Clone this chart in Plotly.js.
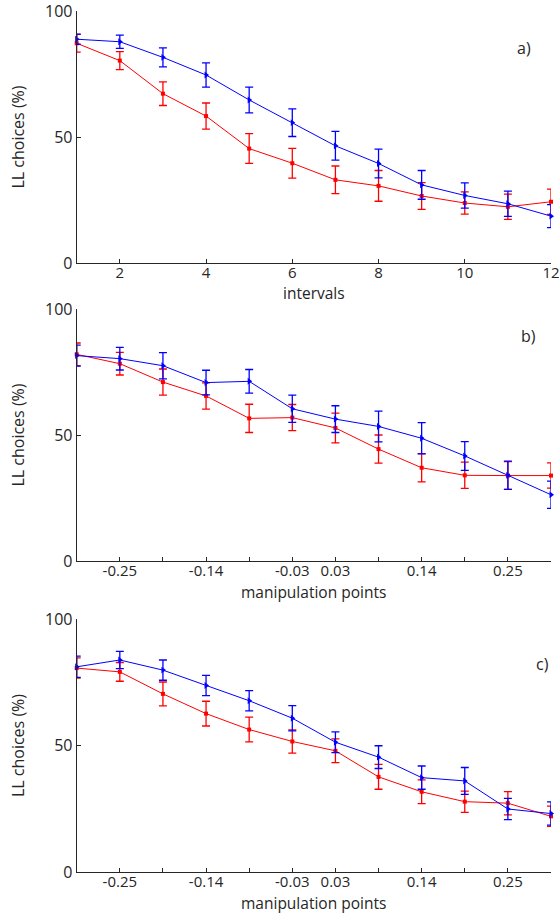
<!DOCTYPE html>
<html>
<head>
<meta charset="utf-8">
<script src="https://cdn.plot.ly/plotly-3.0.1.min.js"></script>
<style>html,body{margin:0;padding:0;background:#fff;}#plot{width:559px;height:913px;}</style>
</head>
<body>
<div id="plot"></div>
<script>
// x positions (index of interval / manipulation point)
const xIdx = [1,2,3,4,5,6,7,8,9,10,11,12];

// Panel a) intervals
const aTickVals = [2,4,6,8,10,12];
const aTickText = ["2","4","6","8","10","12"];
const aBlue    = [88.8,87.8,81.6,74.6,64.7,55.7,46.5,39.5,31.0,26.8,23.5,18.6];
const aBlueErr = [2.0,2.6,3.8,4.8,5.1,5.5,5.7,5.7,5.7,5.0,5.0,4.6];
const aRed     = [87.2,80.3,67.2,58.3,45.4,39.6,33.0,30.6,26.6,23.8,22.3,24.3];
const aRedErr  = [3.5,3.6,4.7,5.2,5.9,5.9,5.5,6.1,5.3,4.4,5.0,5.0];

// Panel b) manipulation points
const mTickVals = [1,2,3,4,5,6,7,8,9,10,11,12];
const mTickText = ["","-0.25","","-0.14","","-0.03","0.03","","0.14","","0.25",""];
const bBlue    = [81.5,80.3,77.5,70.8,71.3,60.4,56.3,53.4,48.7,41.7,34.0,26.3];
const bBlueErr = [4.2,4.5,5.2,4.9,4.7,5.4,5.3,6.1,6.2,5.7,5.6,5.4];
const bRed     = [82.0,78.3,71.0,65.5,56.6,56.9,52.8,44.4,37.0,34.0,33.9,33.9];
const bRedErr  = [4.5,4.5,5.2,5.2,5.6,5.2,5.9,5.6,5.6,5.2,5.5,5.0];

// Panel c) manipulation points
const cBlue    = [81.1,83.8,79.8,73.7,67.7,60.8,51.3,45.4,37.3,36.0,24.9,23.1];
const cBlueErr = [4.2,3.4,4.0,4.0,4.0,5.0,4.1,4.5,4.6,5.3,4.2,4.6];
const cRed     = [80.6,79.1,70.4,62.6,56.3,51.6,47.9,37.6,31.7,27.8,27.2,22.0];
const cRedErr  = [4.0,3.7,4.7,4.9,4.9,4.6,4.7,4.9,4.7,4.2,4.6,4.0];

const panelLabels = ["a)","b)","c)"];
const xTitles = ["intervals","manipulation points","manipulation points"];
const yTitle = "LL choices (%)";

const RED = "#ff0000", BLUE = "#0000ff";
function tr(y, e, color, sym, size, xa, ya) {
  return {
    x: xIdx, y: y, xaxis: xa, yaxis: ya, type: "scatter", mode: "lines+markers",
    line: {color: color, width: 1},
    marker: {color: color, symbol: sym, size: size},
    error_y: {type: "data", array: e, visible: true, color: color, thickness: 1.3, width: 4},
    cliponaxis: false, showlegend: false, hoverinfo: "skip"
  };
}
const data = [
  tr(aRed, aRedErr, RED, "square", 4, "x", "y"),
  tr(aBlue, aBlueErr, BLUE, "triangle-right", 6, "x", "y"),
  tr(bRed, bRedErr, RED, "square", 4, "x2", "y2"),
  tr(bBlue, bBlueErr, BLUE, "triangle-right", 6, "x2", "y2"),
  tr(cRed, cRedErr, RED, "square", 4, "x3", "y3"),
  tr(cBlue, cBlueErr, BLUE, "triangle-right", 6, "x3", "y3")
];

const W = 559, H = 913;
const xDom = [76.7/W, 551/W];
const yDoms = [[1-263/H, 1-11/H],[1-561/H, 1-309/H],[1-872/H, 1-619/H]];
const fontFam = "'Open Sans', 'Noto Sans', sans-serif";
const axCol = "#262626";
const FS = 15;

function xax(i, tv, tt, anchor) {
  return {
    domain: xDom, anchor: anchor, range: [1,12], tickmode: "array", tickvals: tv, ticktext: tt,
    ticks: "inside", ticklen: 4, tickcolor: axCol, showline: true, linecolor: axCol, linewidth: 1,
    showgrid: false, zeroline: false, mirror: false, ticklabeloverflow: "allow",
    ticklabelstandoff: -4,
    tickfont: {family: fontFam, size: FS, color: axCol}
  };
}
function yax(i, anchor) {
  return {
    domain: yDoms[i], anchor: anchor, range: [0,100], tickmode: "array", tickvals: [0,50,100],
    ticks: "inside", ticklen: 4, tickcolor: axCol, showline: true, linecolor: axCol, linewidth: 1,
    showgrid: false, zeroline: false, ticklabeloverflow: "allow",
    tickfont: {family: fontFam, size: 16, color: axCol},
    title: {text: yTitle, font: {family: fontFam, size: 16, color: axCol}, standoff: 16}
  };
}

const annY = [48, 336, 664];
const annX = [524, 528, 542];
const annotations = panelLabels.map((t, i) => ({
  text: t, xref: "paper", yref: "paper", x: annX[i]/W, y: 1 - annY[i]/H,
  xanchor: "center", yanchor: "middle", showarrow: false,
  font: {family: fontFam, size: 16, color: axCol}
}));
const xTitleY = [293, 592, 903];
xTitles.forEach((t, i) => annotations.push({
  text: t, xref: "paper", yref: "paper", x: (xDom[0]+xDom[1])/2, y: 1 - xTitleY[i]/H,
  xanchor: "center", yanchor: "middle", showarrow: false,
  font: {family: fontFam, size: 15.5, color: axCol}
}));

const layout = {
  width: W, height: H, margin: {l: 0, r: 0, t: 0, b: 0},
  paper_bgcolor: "#fff", plot_bgcolor: "#fff",
  xaxis: xax(0, aTickVals, aTickText, "y"),
  yaxis: yax(0, "x"),
  xaxis2: xax(1, mTickVals, mTickText, "y2"),
  yaxis2: yax(1, "x2"),
  xaxis3: xax(2, mTickVals, mTickText, "y3"),
  yaxis3: yax(2, "x3"),
  annotations: annotations,
  showlegend: false
};

Plotly.newPlot("plot", data, layout, {staticPlot: true, displayModeBar: false});
</script>
</body>
</html>
